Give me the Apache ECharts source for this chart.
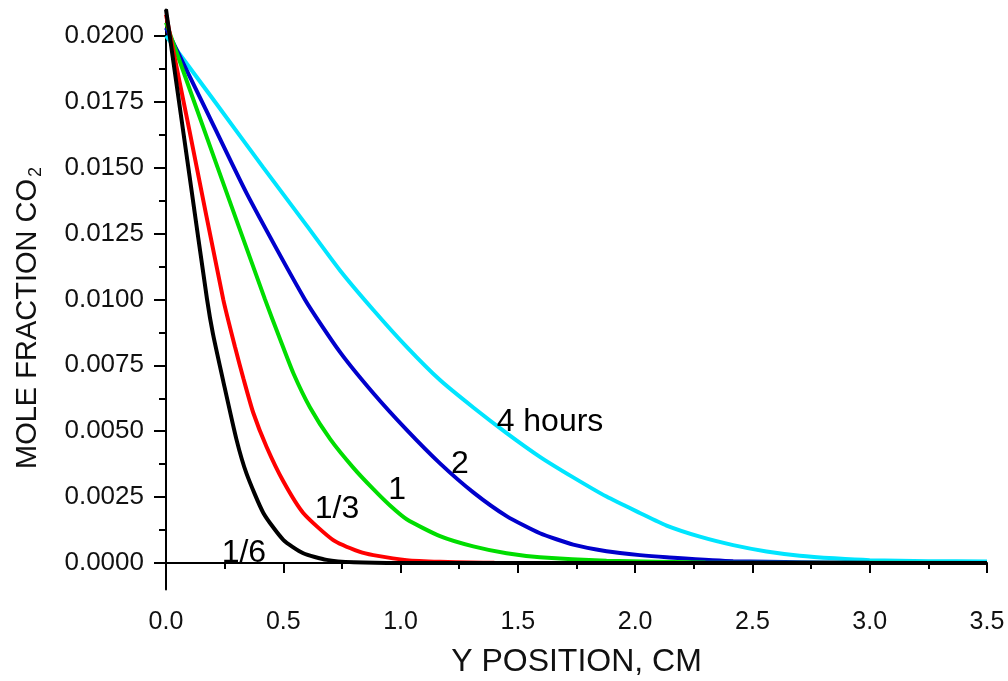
<!DOCTYPE html>
<html><head><meta charset="utf-8">
<script src="https://cdn.jsdelivr.net/npm/echarts@6/dist/echarts.min.js"></script>
<style>html,body{margin:0;padding:0;background:#fff}#c{width:1008px;height:681px}</style>
</head><body><div id="c"></div>
<script>
// ---- data ----
const curveNames = ['1/6', '1/3', '1', '2', '4 hours'];
const curveColors = ['#000000', '#ff0000', '#00dd00', '#0000cc', '#00e5ff'];
const black = [[0,0.021],[0.1,0.0147],[0.175,0.0100],[0.2,0.0087],[0.244,0.0069],[0.3,0.0047],[0.343,0.0034],[0.415,0.0019],[0.5,0.00088],[0.585,0.00037],[0.685,0.00012],[0.8,0.00003],[1.0,0.0],[3.5,0.0]];
const red = [[0,0.0208],[0.1,0.0164],[0.244,0.0100],[0.294,0.0082],[0.33,0.0070],[0.372,0.0057],[0.429,0.0044],[0.5,0.0031],[0.585,0.0019],[0.713,0.00087],[0.827,0.00042],[0.884,0.0003],[1.026,0.00011],[1.168,0.00005],[1.4,0.00001],[3.5,0.0]];
const green = [[0,0.0205],[0.2,0.0155],[0.422,0.0100],[0.486,0.0085],[0.543,0.0072],[0.614,0.0059],[0.7,0.0047],[0.8,0.0036],[0.884,0.0028],[0.955,0.00218],[1.026,0.00166],[1.168,0.00102],[1.31,0.00063],[1.452,0.00037],[1.594,0.00022],[1.878,0.00009],[2.3,0.00002],[3.5,0.0]];
const blue = [[0,0.0203],[0.17,0.0172],[0.345,0.0140],[0.592,0.0100],[0.742,0.0080],[0.884,0.00644],[1.026,0.00505],[1.168,0.00378],[1.31,0.00268],[1.452,0.00178],[1.594,0.00113],[1.736,0.0007],[1.878,0.00045],[2.02,0.0003],[2.134,0.00022],[2.418,0.00007],[3.0,0.00001],[3.5,0.0]];
const cyan = [[0,0.0200],[0.2,0.0176],[0.415,0.0150],[0.6,0.0128],[0.742,0.0111],[0.884,0.0096],[1.026,0.0082],[1.168,0.00694],[1.31,0.0059],[1.452,0.00493],[1.594,0.00403],[1.736,0.00325],[1.878,0.00252],[2.02,0.0019],[2.134,0.00142],[2.276,0.001],[2.418,0.00068],[2.56,0.00044],[2.702,0.00028],[2.85,0.00018],[3.0,0.00011],[3.25,0.00007],[3.5,0.00006]];
const labelTexts = ['1/6', '1/3', '1', '2', '4 hours'];
const labelPos = [[0.332,0.00038],[0.729,0.00205],[0.985,0.00277],[1.253,0.00376],[1.637,0.00535]];
const yMajorTicks = [0,0.0025,0.005,0.0075,0.01,0.0125,0.015,0.0175,0.02];
const yMinorTicks = [0.00125,0.00375,0.00625,0.00875,0.01125,0.01375,0.01625,0.01875];
const xTitle = 'Y POSITION, CM';
const yTitleMain = 'MOLE FRACTION CO';
const yTitleSub = '2';

const font = 'Liberation Sans, Arial, sans-serif';
const series = [black, red, green, blue, cyan].map((d, i) => ({
  type: 'line', name: curveNames[i], data: d, showSymbol: false, smooth: 0.2,
  lineStyle: { color: curveColors[i], width: 4 }, z: 2 + (4 - i)
}));
series.push({
  type: 'scatter', data: labelPos.map((p, i) => ({ value: p, name: labelTexts[i] })),
  symbolSize: 0, silent: true, z: 10,
  itemStyle: { opacity: 1 },
  label: { show: true, position: 'inside', formatter: p => p.name, color: '#000', opacity: 1, fontSize: 32, fontFamily: font }
});

const chart = echarts.init(document.getElementById('c'));
chart.setOption({
  animation: false,
  backgroundColor: '#fff',
  grid: { left: 166, right: 21, top: 9.4, bottom: 91.6, containLabel: false, outerBoundsMode: 'none' },
  xAxis: {
    type: 'value', min: 0, max: 3.5, interval: 0.5,
    axisLine: { lineStyle: { color: '#000', width: 2 } },
    axisTick: { show: true, length: 10, lineStyle: { color: '#000', width: 2 } },
    minorTick: { show: true, splitNumber: 2, length: 6, lineStyle: { color: '#000', width: 2 } },
    splitLine: { show: false },
    axisLabel: { formatter: v => v.toFixed(1), color: '#111', fontSize: 25, fontFamily: font, margin: 20 },
    name: xTitle, nameLocation: 'middle', nameGap: 57,
    nameTextStyle: { color: '#111', fontSize: 32, fontFamily: font }
  },
  yAxis: [{
    type: 'value', min: -0.001, max: 0.021,
    axisLine: { show: true, lineStyle: { color: '#000', width: 2 } },
    axisTick: { show: true, length: 12, customValues: yMajorTicks, lineStyle: { color: '#000', width: 2 } },
    splitLine: { show: false },
    axisLabel: { customValues: yMajorTicks, formatter: v => v.toFixed(4), color: '#111', fontSize: 26, fontFamily: font, margin: 22 }
  }, {
    type: 'value', min: -0.001, max: 0.021, position: 'left',
    axisLine: { show: false },
    axisTick: { show: true, length: 7, customValues: yMinorTicks, lineStyle: { color: '#000', width: 2 } },
    axisLabel: { show: false }, splitLine: { show: false }
  }],
  graphic: [{
    type: 'text', x: 28, y: 318, rotation: Math.PI / 2,
    style: {
      text: '{t|' + yTitleMain + '}{s|' + yTitleSub + '}',
      align: 'center', verticalAlign: 'middle',
      rich: {
        t: { fill: '#111', fontSize: 29, fontFamily: font },
        s: { fill: '#111', fontSize: 18, fontFamily: font, padding: [16, 0, 0, 2] }
      }
    }
  }],
  series
});
</script></body></html>
